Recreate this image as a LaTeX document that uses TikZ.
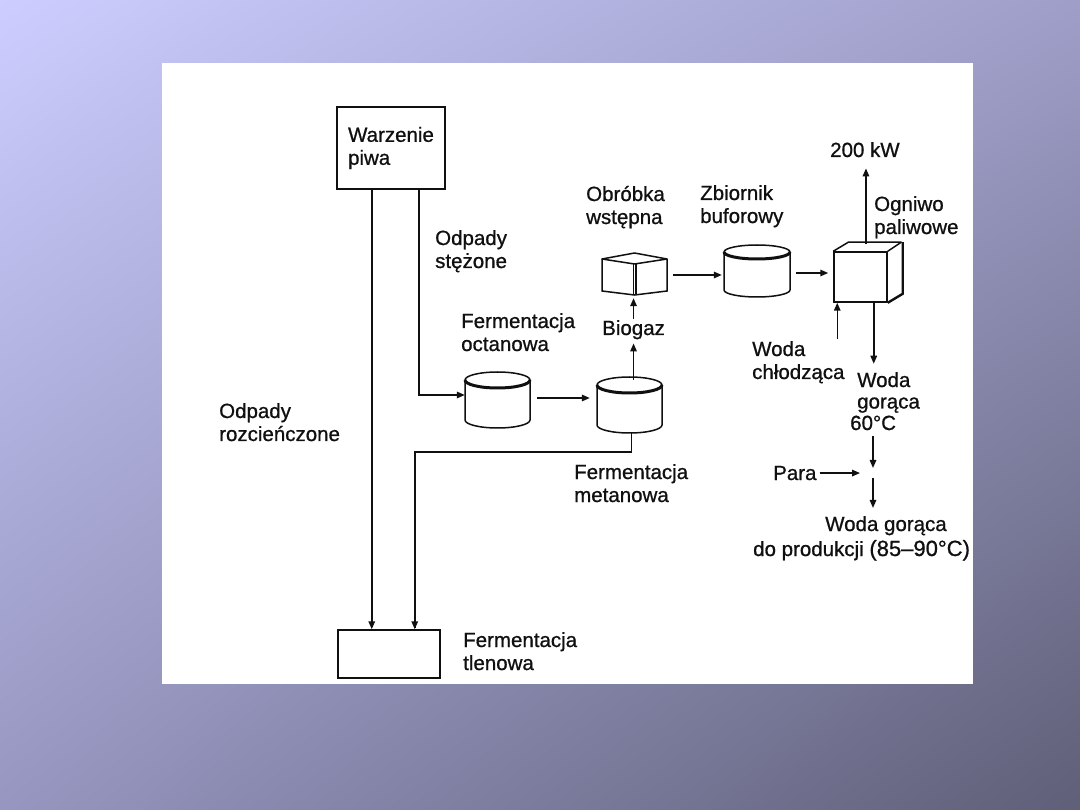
\documentclass[tikz,border=0pt]{standalone}
\usepackage{fontspec}
\setmainfont{Liberation Sans}[FakeBold=0.8]
\usetikzlibrary{arrows.meta,calc,shadings}
\definecolor{bgUL}{RGB}{205,205,255}
\definecolor{bgUR}{RGB}{158,158,200}
\definecolor{bgLL}{RGB}{150,150,192}
\definecolor{bgLR}{RGB}{95,95,120}
\definecolor{ink}{RGB}{16,16,16}
\tikzset{
  lbl/.style={inner sep=0pt, anchor=base west, align=left, text=ink,
              font=\fontsize{20.5}{23}\selectfont},
  shp/.style={draw=ink, line width=1.5pt},
  hid/.style={draw=none, inner sep=0pt},
  arr/.style={draw=ink, line width=1.5pt, -{Triangle[length=8pt,width=6.5pt]}},
  conn/.style={draw=ink, line width=1.5pt},
  boxed/.style={draw=ink, line width=1.5pt, inner sep=0pt, text=ink, align=left,
              font=\fontsize{20.5}{23}\selectfont}
}
% cylinder: #1 cx, #2 rx, #3 lid centre y, #4 bottom centre y, #5 ry
\newcommand\mycyl[5]{%
  \draw[shp] (#1-#2,#3) arc[start angle=180,end angle=0,x radius=#2pt,y radius=#5pt];
  \draw[draw=ink,line width=3pt] (#1-#2,#3) arc[start angle=180,end angle=360,x radius=#2pt,y radius=#5pt];
  \draw[shp] (#1-#2,#3) -- (#1-#2,#4) arc[start angle=180,end angle=360,x radius=#2pt,y radius=#5pt] -- (#1+#2,#3);
}
\begin{document}
\begin{tikzpicture}[x=1pt,y=-1pt]
\useasboundingbox (0,0) rectangle (1080,810);
\shade[upper left=bgUL, upper right=bgUR, lower left=bgLL, lower right=bgLR] (0,0) rectangle (1080,810);
\fill[white] (162,63) rectangle (973,684);

% ---- nodes ----
\node[boxed, minimum width=108pt, minimum height=82pt] (warz) at (391,148) {Warzenie\\piwa};
\node[boxed, minimum width=102pt, minimum height=48pt] (tlen) at (389,654) {};
\node[hid, minimum width=65pt, minimum height=56pt] (oct) at (497.5,400) {};
\node[hid, minimum width=65pt, minimum height=56pt] (met) at (629.5,405) {};
\node[hid, minimum width=65pt, minimum height=42pt] (obr) at (634.5,274) {};
\node[hid, minimum width=66pt, minimum height=52pt] (zb) at (757,271) {};
\node[draw=ink, line width=1.5pt, inner sep=0pt, minimum width=53pt, minimum height=50pt] (ogn) at (860.5,277) {};

% ---- shapes ----
\mycyl{497.5}{32.5}{380}{420}{8}
\mycyl{629.5}{32.5}{385}{425}{8}
\mycyl{757}{33}{252}{290}{7}
% pre-treatment cube
\draw[shp, line join=round] (602,259) -- (634.5,253) -- (667,259) -- (634.5,264) -- cycle;
\draw[shp] (602,259) -- (602,291) -- (634.5,295) -- (667,291) -- (667,259);
\draw[shp] (633.5,264) -- (633.5,295);
\draw[shp] (636,264) -- (636,295);
% fuel cell cube
\draw[shp, line join=round] (ogn.north west) -- ++(15,-9) -- ++(53,0) -- (ogn.north east);
\draw[draw=ink, line width=2.4pt] ($(ogn.north east)+(15,-9)$) -- ($(ogn.south east)+(15,-9)$) -- (ogn.south east);

% ---- labels (anchored at the baseline of the last line) ----
\node[lbl] (ost) at (435,268) {Odpady\\stężone};
\node[lbl] (roz) at (219,441) {Odpady\\rozcieńczone};
\node[lbl] (octl) at (461,351) {Fermentacja\\octanowa};
\node[lbl] (bio) at (602,335) {Biogaz};
\node[lbl] (metl) at (574,502) {Fermentacja\\metanowa};
\node[lbl] (tlenl) at (463,670) {Fermentacja\\tlenowa};
\node[lbl] (obrl) at (586,224) {Obróbka\\wstępna};
\node[lbl] (zbl) at (700,223) {Zbiornik\\buforowy};
\node[lbl] (kw) at (830,157) {200 kW};
\node[lbl] (ognl) at (874,234) {Ogniwo\\paliwowe};
\node[lbl] (chl) at (752,379) {Woda\\chłodząca};
\node[lbl, font=\fontsize{20.5}{21.5}\selectfont] (wg) at (857,430) {Woda\\gorąca\\\hspace*{-7pt}60°C};
\node[lbl] (para) at (773,480) {Para};
\node[lbl] (wg2) at (825,531) {Woda gorąca};
\node[lbl] (prod) at (753,556) {do produkcji {\fontsize{22}{23}\selectfont(85–90°C)}};

% ---- connectors ----
\draw[arr] ([xshift=-74pt]warz.south east) -- ([xshift=-74pt]warz.south east |- tlen.north);
\draw[arr] ([xshift=-27pt]warz.south east) |- ($(oct.west)+(0,-5)$);
\draw[conn] ($(met.south)+(2,0)$) -- ($(met.south)+(2,19)$) -| ($(tlen.north east)+(-26,-1)$);
\draw[arr] ($(tlen.north east)+(-26,-2)$) -- ($(tlen.north east)+(-26,0)$);
\draw[arr] ($(oct.east)+(7,-2)$) -- ($(oct.east -| met.west)+(-7,-2)$);
\draw[arr] ($(bio.south |- met.north)+(0,3)$) -- ($(bio.south)+(0,4)$);
\draw[arr] ($(bio.north)+(0,-1)$) -- ($(bio.north |- obr.south)+(0,3)$);
\draw[arr] ($(obr.east)+(6,1)$) -- ($(obr.east -| zb.west)+(-2,1)$);
\draw[arr] ($(zb.east)+(6,2)$) -- ($(zb.east -| ogn.west)+(-5,2)$);
\draw[arr] ($(kw.south |- ogn.north)+(1,-7)$) -- ($(kw.south)+(1,11)$);
\draw[arr] ($(ogn.south west)+(4,36)$) -- ($(ogn.south west)+(4,0)$);
\draw[arr] ($(ogn.south east)+(-14,0)$) -- ($(ogn.south east)+(-14,61)$);
\coordinate (mix) at (873,473);
\draw[arr] ($(mix |- wg.south)+(0,6)$) -- ($(mix)+(0,-5)$);
\draw[arr] ($(para.east)+(3,0)$) -- ($(para.east -| mix)+(-13,0)$);
\draw[arr] ($(mix)+(0,5)$) -- ($(mix |- wg2.north)+(0,-8)$);
\end{tikzpicture}
\end{document}
